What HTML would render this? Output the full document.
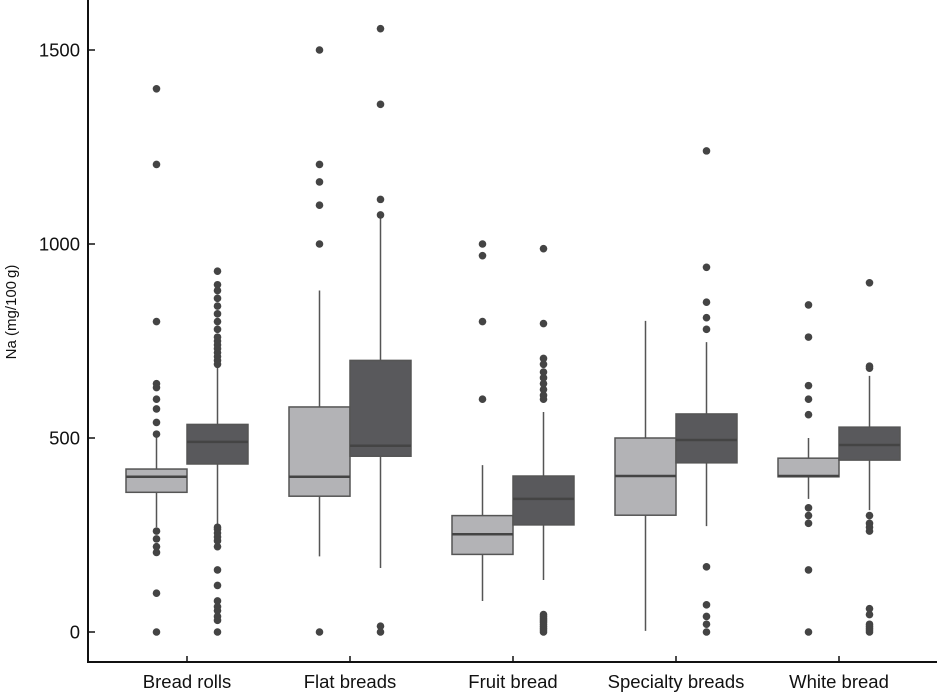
<!DOCTYPE html>
<html><head><meta charset="utf-8"><style>
html,body{margin:0;padding:0;background:#fff}
text{font-family:"Liberation Sans",sans-serif;fill:#111}
</style></head><body>
<svg id="chart" width="937" height="693" viewBox="0 0 937 693" xmlns="http://www.w3.org/2000/svg"></svg>
<script>
const categories=["Bread rolls","Flat breads","Fruit bread","Specialty breads","White bread"];
const yTicks=[0,500,1000,1500];
// [whiskerLow, q1, median, q3, whiskerHigh]
const lightStats=[[270,360,400,420,505],[195,350,400,580,880],[80,200,252,300,430],[3,301,402,500,802],[343,400,402,448,500]];
const darkStats=[[263,433,490,535,688],[165,453,480,700,1070],[134,276,343,402,567],[273,436,495,562,747],[314,443,482,528,660]];
const lightOutliers=[[0,100,205,220,240,260,510,540,575,600,630,640,800,1205,1400],[0,1000,1100,1160,1205,1500],[600,800,970,1000],[],[0,160,280,300,320,560,600,635,760,843]];
const darkOutliers=[[0,30,40,55,65,80,120,160,220,235,245,255,265,270,690,700,710,720,730,740,750,760,780,800,820,840,860,880,895,930],[0,15,1075,1115,1360,1555],[0,5,10,15,20,25,30,35,40,45,600,610,625,640,655,670,690,705,795,988],[0,20,40,70,168,780,810,850,940,1240],[0,5,10,15,20,45,60,260,270,280,300,680,685,900]];

const svg=document.getElementById('chart');
const NS="http://www.w3.org/2000/svg";
const y=v=>632-v*0.388;
const xc=i=>187+i*163;
const BW=61;
function mk(tag,attrs,parent){const e=document.createElementNS(NS,tag);for(const k in attrs)e.setAttribute(k,attrs[k]);(parent||svg).appendChild(e);return e;}

let ax=mk('line',{x1:88,y1:0,x2:88,y2:662,stroke:'#111','stroke-width':2});


let bx=mk('line',{x1:87,y1:662,x2:937,y2:662,stroke:'#111','stroke-width':2});


yTicks.forEach(t=>{
  const tk=mk('line',{x1:88,y1:y(t),x2:95,y2:y(t),stroke:'#111','stroke-width':1.5});
  
  
  const lb=mk('text',{x:80,y:y(t)+6.5,'text-anchor':'end','font-size':18.5});
  lb.textContent=t;
  
  
});
const yt=mk('text',{x:16,y:312,'text-anchor':'middle','font-size':15,transform:'rotate(-90 16 312)'});
yt.textContent='Na (mg/100\u2009g)';



function drawBox(s,outs,x0,fill,name){
  const g=mk('g',{});
  
  
  const cx=x0+BW/2;
  mk('line',{x1:cx,y1:y(s[0]),x2:cx,y2:y(s[4]),stroke:'#555','stroke-width':1.5},g);
  mk('rect',{x:x0,y:y(s[3]),width:BW,height:y(s[1])-y(s[3]),fill:fill,stroke:'#555','stroke-width':1.5},g);
  mk('line',{x1:x0,y1:y(s[2]),x2:x0+BW,y2:y(s[2]),stroke:'#444','stroke-width':2.5},g);
  outs.forEach(o=>{const c=mk('circle',{cx:cx,cy:y(o),r:3.8,fill:'#444'},g);
    
    });
}
categories.forEach((c,i)=>{
  const cx=xc(i);
  drawBox(lightStats[i],lightOutliers[i],cx-BW,'#b3b3b6','box-light-'+i);
  drawBox(darkStats[i],darkOutliers[i],cx,'#59595c','box-dark-'+i);
  const tk=mk('line',{x1:cx,y1:656,x2:cx,y2:662,stroke:'#111','stroke-width':1.5});
  
  
  const lb=mk('text',{x:cx,y:688,'text-anchor':'middle','font-size':18.5});
  lb.textContent=c;
  
  
});
</script>
</body></html>
